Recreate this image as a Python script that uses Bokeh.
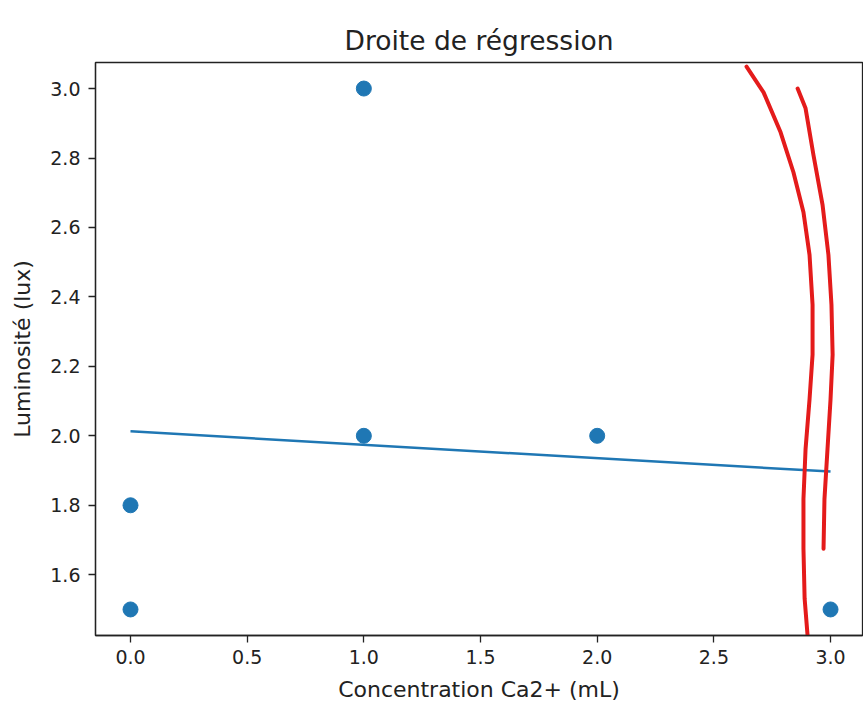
from bokeh.plotting import figure
from bokeh.models import FixedTicker, PrintfTickFormatter, Range1d
from bokeh.embed import file_html
from bokeh.resources import INLINE

# Data
conc_x = [0, 0, 1, 1, 2, 3]
lum_y = [1.5, 1.8, 3.0, 2.0, 2.0, 1.5]

# Regression line end points
reg_x = [0, 3]
reg_y = [2.013, 1.897]

x_ticks = [0.0, 0.5, 1.0, 1.5, 2.0, 2.5, 3.0]
y_ticks = [1.6, 1.8, 2.0, 2.2, 2.4, 2.6, 2.8, 3.0]

# Hand-drawn red annotation strokes (data coordinates)
stroke1_x = [2.640, 2.713, 2.786, 2.841, 2.884, 2.910, 2.923, 2.923, 2.910, 2.893, 2.884, 2.884, 2.889, 2.906]
stroke1_y = [3.063, 2.989, 2.874, 2.759, 2.644, 2.521, 2.377, 2.234, 2.105, 1.962, 1.818, 1.675, 1.531, 1.388]
stroke2_x = [2.859, 2.893, 2.927, 2.966, 2.991, 3.004, 3.009, 3.000, 2.987, 2.974, 2.970]
stroke2_y = [3.000, 2.943, 2.808, 2.664, 2.521, 2.377, 2.234, 2.105, 1.962, 1.818, 1.675]

BLUE = "#1f77b4"
FONT = "DejaVu Sans"

p = figure(width=863, height=704, output_backend="svg", toolbar_location=None,
           x_range=Range1d(-0.15, 3.137), y_range=Range1d(1.425, 3.075),
           title="Droite de régression",
           min_border_left=95, min_border_top=62, min_border_right=1, min_border_bottom=65)

p.title.align = "center"
p.title.text_font = FONT
p.title.text_font_size = "26.5px"
p.title.text_font_style = "normal"
p.title.text_color = "#222222"
p.title.standoff = 14

p.xgrid.visible = False
p.ygrid.visible = False
p.outline_line_color = "#222222"
p.outline_line_width = 1.3
p.outline_line_alpha = 1.0
p.background_fill_color = "white"
p.border_fill_color = "white"

for ax in (p.xaxis[0], p.yaxis[0]):
    ax.axis_line_color = "#222222"
    ax.axis_line_width = 1.3
    ax.major_tick_line_color = "#222222"
    ax.major_tick_line_width = 1.3
    ax.major_tick_out = 7
    ax.major_tick_in = 0
    ax.minor_tick_out = 0
    ax.minor_tick_in = 0
    ax.major_label_text_font = FONT
    ax.major_label_text_font_size = "19px"
    ax.major_label_text_color = "#222222"
    ax.axis_label_text_font = FONT
    ax.axis_label_text_font_size = "22px"
    ax.axis_label_text_font_style = "normal"
    ax.axis_label_text_color = "#222222"
    ax.formatter = PrintfTickFormatter(format="%.1f")

p.xaxis.ticker = FixedTicker(ticks=x_ticks)
p.yaxis.ticker = FixedTicker(ticks=y_ticks)
p.xaxis.axis_label = "Concentration Ca2+ (mL)"
p.yaxis.axis_label = "Luminosité (lux)"
p.xaxis.major_label_standoff = 7
p.xaxis.axis_label_standoff = 10
p.yaxis.major_label_standoff = 8
p.yaxis.axis_label_standoff = 12

p.line(reg_x, reg_y, line_color=BLUE, line_width=2.5)
p.scatter(conc_x, lum_y, size=15, fill_color=BLUE, line_color=BLUE)

p.line(stroke1_x, stroke1_y, line_color="#e41b1b", line_width=4, line_cap="round", line_join="round")
p.line(stroke2_x, stroke2_y, line_color="#e41b1b", line_width=4, line_cap="round", line_join="round")

open("out.html", "w").write(file_html(p, INLINE))
